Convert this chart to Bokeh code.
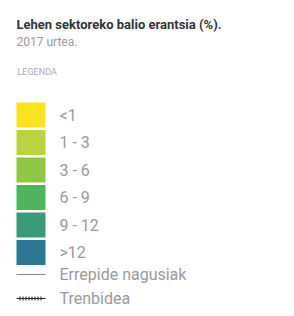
from bokeh.plotting import figure
from bokeh.models import ColumnDataSource
from bokeh.core.properties import value
from bokeh.embed import file_html
from bokeh.resources import INLINE

title = "Lehen sektoreko balio erantsia (%)."
subtitle = "2017 urtea."
legend_head = "LEGENDA"
classes = ["<1", "1 - 3", "3 - 6", "6 - 9", "9 - 12", ">12"]
colors = ["#FBE21F", "#B9D43E", "#8DC743", "#4FB45E", "#3A9A7A", "#2A7893"]
line_labels = ["Errepide nagusiak", "Trenbidea"]

W, H = 286, 308
p = figure(width=W, height=H, x_range=(0, W), y_range=(H, 0),
           output_backend="svg", toolbar_location=None, min_border=0)
p.axis.visible = False
p.grid.visible = False
p.outline_line_color = None
p.background_fill_color = "white"
p.border_fill_color = "white"

x0 = 16
pitch = 27.5
y_first = 114.5
ys = [y_first + i * pitch for i in range(len(classes))]
src = ColumnDataSource(dict(y=ys, c=colors, lab=classes))
p.rect(x=x0 + 14.5, y="y", width=29, height=25, fill_color="c", line_color=None, source=src)
p.text(x=x0 + 43, y="y", text="lab", source=src, text_font=value("Roboto"),
       text_font_size="16px", text_color="#9a9a9a", text_baseline="middle")

p.text(x=[x0], y=[24], text=[title], text_font=value("Roboto"), text_font_style="bold",
       text_font_size="13px", text_color="#333333", text_baseline="middle")
p.text(x=[x0], y=[41], text=[subtitle], text_font=value("Roboto"),
       text_font_size="12px", text_color="#999999", text_baseline="middle")
p.text(x=[x0 + 1], y=[71], text=[legend_head], text_font=value("Roboto"),
       text_font_size="9px", text_color="#aaaaaa", text_baseline="middle")

ly = [274, 298]
p.line(x=[x0, x0 + 29], y=[ly[0], ly[0]], line_color="#888888", line_width=1)
p.line(x=[x0, x0 + 29], y=[ly[1], ly[1]], line_color="#222222", line_width=1.2)
p.line(x=[x0 + 3, x0 + 25], y=[ly[1], ly[1]], line_color="#222222", line_width=4, line_dash="1 2")
p.text(x=[x0 + 43, x0 + 43], y=ly, text=line_labels, text_font=value("Roboto"),
       text_font_size="16px", text_color="#9a9a9a", text_baseline="middle")

open("out.html", "w").write(file_html(p, INLINE))
